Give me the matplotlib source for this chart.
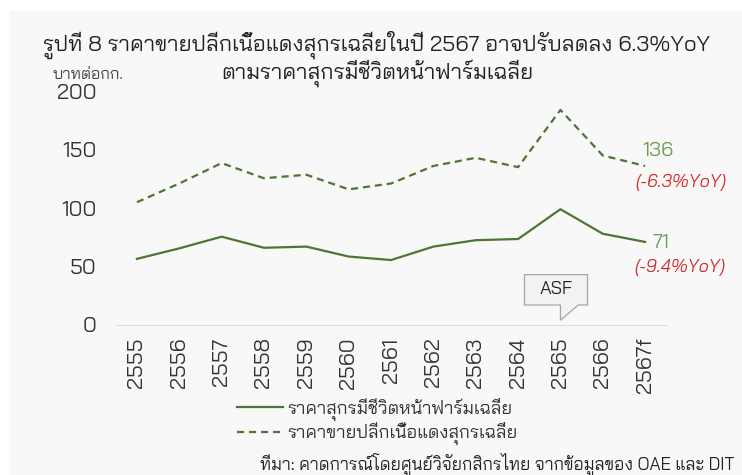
import matplotlib
matplotlib.use("Agg")
import matplotlib.pyplot as plt
from matplotlib.patches import Polygon, Rectangle

plt.rcParams['font.family'] = ['Bai Jamjuree', 'DejaVu Sans']

ปี = ["2555", "2556", "2557", "2558", "2559", "2560", "2561",
      "2562", "2563", "2564", "2565", "2566", "2567f"]
ราคาสุกรมีชีวิต = [56.5, 65.5, 75.5, 66, 67, 58.5, 55.5, 67, 72.5, 73.5, 99, 78, 71]
ราคาขายปลีก = [105, 121, 138.5, 125.5, 128.5, 116, 121, 136, 143, 135, 184, 145, 136]
ชื่อเส้น = ["ราคาสุกรมีชีวิตหน้าฟาร์มเฉลี่ย", "ราคาขายปลีกเนื้อแดงสุกรเฉลี่ย"]
ป้ายท้าย = ["(-9.4%YoY)", "(-6.3%YoY)"]

เขียว = "#4f7535"
เขียวอ่อน = "#6f9a52"
แดง = "#d42a2a"
bg = "#f8f8f8"

fig = plt.figure(figsize=(7.42, 4.75), dpi=100, facecolor="white")
fig.patches.append(Rectangle((9 / 742, 0), 1, 1 - 11 / 475, transform=fig.transFigure,
                             facecolor=bg, edgecolor="none", zorder=-10))
ax = fig.add_axes([0.156, 0.316, 0.742, 0.492])
ax.patch.set_alpha(0)
x = list(range(len(ปี)))

l1, = ax.plot(x, ราคาสุกรมีชีวิต, color=เขียว, lw=1.6, label=ชื่อเส้น[0])
l2, = ax.plot(x, ราคาขายปลีก, color=เขียว, lw=1.6, ls=(0, (3.2, 2.2)), label=ชื่อเส้น[1])

ax.set_xlim(-0.5, len(ปี) - 0.5)
ax.set_ylim(0, 200)
ax.set_yticks([0, 50, 100, 150, 200])
ax.set_xticks(x)
ax.set_xticklabels(ปี, rotation=90)
ax.tick_params(length=0, labelsize=15.5, colors="#333333")
ax.tick_params(axis="y", pad=14)
ax.tick_params(axis="x", pad=9)
for s in ["top", "right", "left"]:
    ax.spines[s].set_visible(False)
ax.spines["bottom"].set_color("#dcdcdc")

# ป้ายค่าปีสุดท้าย
n = len(ปี) - 1
ax.text(n - 0.07, 148.5, f"{ราคาขายปลีก[n]:.0f}", color=เขียวอ่อน,
        fontsize=14.5, ha="left", va="center")
ax.text(n + 0.85, 121.5, ป้ายท้าย[1], color=แดง, fontsize=12.7,
        style="italic", ha="center", va="center")
ax.text(n + 0.17, 70, f"{ราคาสุกรมีชีวิต[n]:.0f}", color=เขียวอ่อน,
        fontsize=14.5, ha="left", va="center")
ax.text(n + 0.83, 49.5, ป้ายท้าย[0], color=แดง, fontsize=12.7,
        style="italic", ha="center", va="center")

# กล่อง ASF
i = ปี.index("2565")
box = Polygon([(i - 0.85, 43), (i + 0.64, 43), (i + 0.64, 17), (i + 0.42, 17),
               (i, 4), (i, 17), (i - 0.85, 17)], closed=True,
              facecolor="#f2f2f2", edgecolor="#a6a6a6", lw=0.9, clip_on=False)
ax.add_patch(box)
ax.text(i - 0.1, 30, "ASF", ha="center", va="center", fontsize=13, color="#222222")

fig.text(0.507, 0.905, "รูปที่ 8 ราคาขายปลีกเนื้อแดงสุกรเฉลี่ยในปี 2567 อาจปรับลดลง 6.3%YoY",
         ha="center", va="center", fontsize=15.8, color="#222222")
fig.text(0.509, 0.846, "ตามราคาสุกรมีชีวิตหน้าฟาร์มเฉลี่ย",
         ha="center", va="center", fontsize=15.8, color="#222222")
fig.text(0.119, 0.842, "บาทต่อกก.", ha="center", va="center", fontsize=11.5, color="#444444")

fig.legend(handles=[l1, l2], loc="center left", bbox_to_anchor=(0.298, 0.113), ncol=1,
           frameon=False, fontsize=13, handlelength=2.5, handletextpad=0.28,
           labelspacing=0.08, labelcolor="#333333")

fig.text(0.99, 0.011, "ที่มา: คาดการณ์โดยศูนย์วิจัยกสิกรไทย จากข้อมูลของ OAE และ DIT",
         ha="right", va="baseline", fontsize=12.4, color="#222222")

fig.savefig("out.png", dpi=100, facecolor="white")
